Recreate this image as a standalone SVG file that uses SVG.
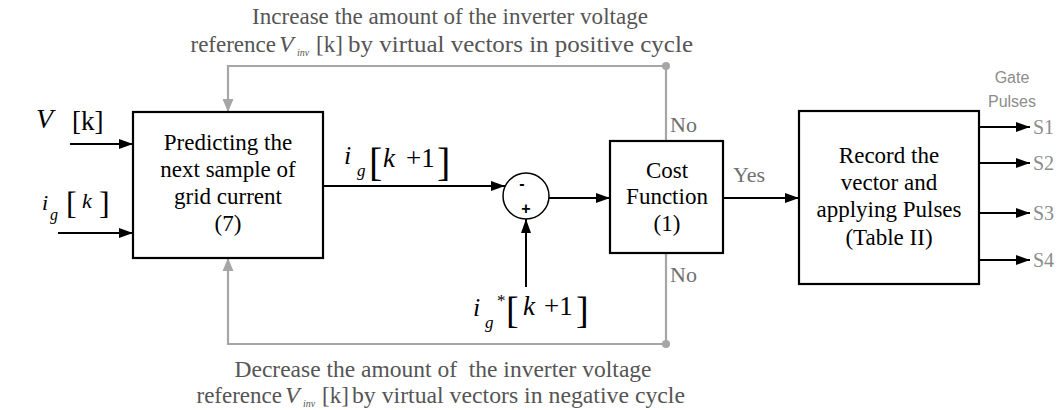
<svg xmlns="http://www.w3.org/2000/svg" width="1060" height="410" viewBox="0 0 1060 410">
<style>
  .box{fill:#fff;stroke:#000;stroke-width:2.2}
  .t{font-family:"Liberation Serif","Times New Roman",serif;font-size:23px;fill:#000}
  .c{text-anchor:middle}
  .cap{font-family:"Liberation Serif","Times New Roman",serif;font-size:23px;fill:#555}
  .gl{font-family:"Liberation Serif","Times New Roman",serif;font-size:22px;fill:#707070}
  .it{font-style:italic}
  .blk{stroke:#000;stroke-width:2;fill:none}
  .gry{stroke:#a6a6a6;stroke-width:2.2;fill:none}
  .sl{font-family:"Liberation Serif","Times New Roman",serif;font-size:20px;fill:#8c8c8c}
  .gp{font-family:"Liberation Sans",Arial,sans-serif;font-size:16px;fill:#8c8c8c;text-anchor:middle}
</style>
<defs>
  <marker id="ab" markerUnits="userSpaceOnUse" markerWidth="15" markerHeight="11" refX="14" refY="5.5" orient="auto">
    <path d="M0,0.5 L14,5.5 L0,10.5 z" fill="#000"/>
  </marker>
  <marker id="ag" markerUnits="userSpaceOnUse" markerWidth="14" markerHeight="12" refX="13" refY="6" orient="auto">
    <path d="M0,0.5 L13,6 L0,11.5 z" fill="#a6a6a6"/>
  </marker>
</defs>

<g id="captions">
  <text class="cap" x="450" y="24" text-anchor="middle" textLength="396" lengthAdjust="spacingAndGlyphs">Increase the amount of the inverter voltage</text>
  <text class="cap" x="276" y="52" text-anchor="end">reference</text>
  <text class="cap it" x="279" y="52" style="font-size:24px">V</text>
  <text class="cap it" x="297" y="56" style="font-size:10px">inv</text>
  <text class="cap" x="316" y="52">[k]</text>
  <text class="cap" x="348" y="52" textLength="345" lengthAdjust="spacingAndGlyphs">by virtual vectors in positive cycle</text>

  <text class="cap" x="443" y="377" text-anchor="middle" textLength="417" lengthAdjust="spacingAndGlyphs" xml:space="preserve">Decrease the amount of  the inverter voltage</text>
  <text class="cap" x="282" y="403" text-anchor="end">reference</text>
  <text class="cap it" x="285" y="403" style="font-size:24px">V</text>
  <text class="cap it" x="303" y="407" style="font-size:10px">inv</text>
  <text class="cap" x="322" y="403">[k]</text>
  <text class="cap" x="352" y="403" textLength="333" lengthAdjust="spacingAndGlyphs">by virtual vectors in negative cycle</text>
</g>

<g id="connectors">
  <line class="blk" x1="70" y1="144" x2="133" y2="144" marker-end="url(#ab)"/>
  <line class="blk" x1="58" y1="233" x2="133" y2="233" marker-end="url(#ab)"/>
  <line class="blk" x1="323" y1="186" x2="505" y2="186" marker-end="url(#ab)"/>
  <line class="blk" x1="549" y1="198" x2="610" y2="198" marker-end="url(#ab)"/>
  <line class="blk" x1="526" y1="287" x2="526" y2="219" marker-end="url(#ab)"/>
  <line class="blk" x1="723" y1="198" x2="799" y2="198" marker-end="url(#ab)"/>
  <line class="blk" x1="979" y1="127" x2="1030" y2="127" marker-end="url(#ab)"/>
  <line class="blk" x1="979" y1="163" x2="1030" y2="163" marker-end="url(#ab)"/>
  <line class="blk" x1="979" y1="213" x2="1030" y2="213" marker-end="url(#ab)"/>
  <line class="blk" x1="979" y1="260" x2="1030" y2="260" marker-end="url(#ab)"/>
  <path class="gry" d="M666,141 V66 H228 V112" marker-end="url(#ag)"/>
  <path class="gry" d="M666,253 V344 H228 V258" marker-end="url(#ag)"/>
  <circle cx="666" cy="66" r="4" fill="#a6a6a6"/>
  <circle cx="666" cy="344" r="4" fill="#a6a6a6"/>
  <text class="gl" x="670" y="132">No</text>
  <text class="gl" x="670" y="282">No</text>
  <text class="gl" x="733" y="182">Yes</text>
</g>

<g id="inputs">
  <text class="t it" x="36" y="128" style="font-size:28px">V</text>
  <text class="t" x="72" y="130" style="font-size:27px">[k]</text>
  <text class="t it" x="42" y="210" style="font-size:22px">i</text>
  <text class="t it" x="50" y="220" style="font-size:16px">g</text>
  <text class="t" x="66" y="214" style="font-size:32px">[</text>
  <text class="t it" x="82" y="208" style="font-size:22px">k</text>
  <text class="t" x="99" y="214" style="font-size:32px">]</text>
</g>

<g id="predict">
  <rect class="box" x="133" y="112" width="190" height="146"/>
  <text class="t c" x="228" y="150">Predicting the</text>
  <text class="t c" x="228" y="177">next sample of</text>
  <text class="t c" x="228" y="204">grid current</text>
  <text class="t c" x="228" y="231">(7)</text>
</g>

<g id="label-ig-k1">
  <text class="t it" x="344" y="164" style="font-size:26px">i</text>
  <text class="t it" x="357" y="176" style="font-size:17px">g</text>
  <text class="t" x="369" y="176" style="font-size:40px">[</text>
  <text class="t it" x="383" y="167" style="font-size:27px">k</text>
  <text class="t" x="406" y="167" style="font-size:27px">+1</text>
  <text class="t" x="437" y="176" style="font-size:40px">]</text>
</g>

<g id="sum">
  <circle cx="526" cy="196" r="23" fill="#fff" stroke="#000" stroke-width="1.5"/>
  <text x="522" y="189" font-family="Liberation Sans,Arial,sans-serif" font-size="16" font-weight="bold" text-anchor="middle">-</text>
  <text x="526" y="214" font-family="Liberation Sans,Arial,sans-serif" font-size="16" font-weight="bold" text-anchor="middle">+</text>
</g>

<g id="label-igref">
  <text class="t it" x="473" y="316" style="font-size:26px">i</text>
  <text class="t it" x="485" y="328" style="font-size:17px">g</text>
  <text class="t" x="497" y="306" style="font-size:17px">*</text>
  <text class="t" x="506" y="323" style="font-size:38px">[</text>
  <text class="t it" x="523" y="315" style="font-size:27px">k</text>
  <text class="t" x="544" y="315" style="font-size:27px">+1</text>
  <text class="t" x="576" y="323" style="font-size:38px">]</text>
</g>

<g id="cost">
  <rect class="box" x="610" y="141" width="113" height="112"/>
  <text class="t c" x="667" y="178">Cost</text>
  <text class="t c" x="667" y="204">Function</text>
  <text class="t c" x="667" y="231">(1)</text>
</g>

<g id="record">
  <rect class="box" x="799" y="111" width="180" height="173"/>
  <text class="t c" x="889" y="163">Record the</text>
  <text class="t c" x="889" y="190">vector and</text>
  <text class="t c" x="889" y="217">applying Pulses</text>
  <text class="t c" x="889" y="245">(Table II)</text>
</g>

<g id="gate">
  <text class="gp" x="1012" y="83">Gate</text>
  <text class="gp" x="1012" y="107">Pulses</text>
  <text class="sl" x="1033" y="134">S1</text>
  <text class="sl" x="1033" y="170">S2</text>
  <text class="sl" x="1033" y="220">S3</text>
  <text class="sl" x="1033" y="267">S4</text>
</g>
</svg>
